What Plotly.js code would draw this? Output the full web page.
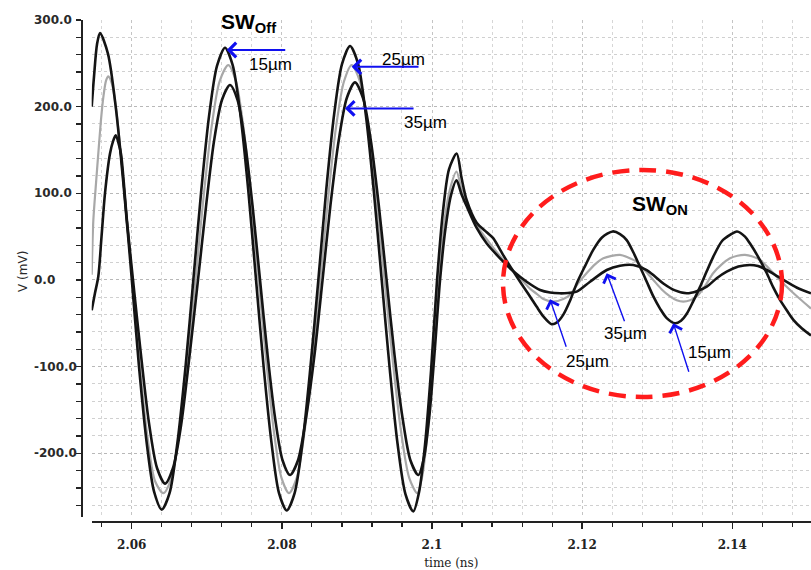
<!DOCTYPE html>
<html><head><meta charset="utf-8">
<script src="https://cdn.plot.ly/plotly-3.0.1.min.js"></script>
<style>html,body{margin:0;padding:0;background:#fff}#chart{width:811px;height:570px}</style>
</head><body><div id="chart"></div>
<script>
// time in ns, voltage in mV
const t15 = [2.05467,2.05498,2.05538,2.05578,2.05684,2.05791,2.05897,2.05997,2.06097,2.06204,2.06297,2.06400,2.06504,2.06610,2.06717,2.06821,2.06923,2.07030,2.07136,2.07243,2.07345,2.07449,2.07553,2.07656,2.07758,2.07862,2.07962,2.08065,2.08170,2.08275,2.08380,2.08486,2.08591,2.08696,2.08801,2.08908,2.09014,2.09118,2.09223,2.09330,2.09435,2.09541,2.09646,2.09751,2.09827,2.09907,2.09987,2.10067,2.10147,2.10227,2.10329,2.10393,2.10462,2.10595,2.10729,2.10817,2.10906,2.10995,2.11083,2.11195,2.11305,2.11395,2.11483,2.11594,2.11665,2.11749,2.11838,2.11927,2.12038,2.12149,2.12264,2.12407,2.12504,2.12593,2.12681,2.12771,2.12860,2.12948,2.13037,2.13126,2.13237,2.13317,2.13393,2.13477,2.13570,2.13659,2.13747,2.13863,2.13969,2.14063,2.14169,2.14236,2.14342,2.14458,2.14542,2.14635,2.14725,2.14813,2.14928,2.15048];
const v15 = [200,235,272,285,261,197,104,5,-100,-191,-244,-265,-246,-187,-100,0,100,189,247,268,248,190,103,0,-101,-188,-246,-266,-246,-188,-101,0,104,191,249,270,250,191,104,0,-101,-189,-247,-267,-245,-190,-105,0,80,128,146,118,92,66,55,48,35,22,10,-5,-19,-31,-42,-51,-49,-40,-24,-4,16,35,49,56,53,46,32,15,-2,-19,-33,-44,-50,-47,-39,-25,-8,10,27,45,52,56,50,42,27,8,-8,-23,-35,-46,-56,-64];

const t25 = [2.05467,2.05489,2.05525,2.05555,2.05591,2.05622,2.05658,2.05688,2.05738,2.05791,2.05897,2.06001,2.06104,2.06211,2.06310,2.06421,2.06530,2.06637,2.06743,2.06850,2.06956,2.07063,2.07170,2.07287,2.07389,2.07489,2.07589,2.07690,2.07792,2.07893,2.07994,2.08095,2.08199,2.08304,2.08408,2.08512,2.08617,2.08721,2.08827,2.08930,2.09040,2.09149,2.09258,2.09367,2.09477,2.09586,2.09695,2.09804,2.09873,2.09947,2.10013,2.10087,2.10160,2.10240,2.10326,2.10393,2.10462,2.10595,2.10773,2.10950,2.11083,2.11195,2.11305,2.11395,2.11483,2.11612,2.11749,2.11838,2.11945,2.12061,2.12171,2.12282,2.12504,2.12611,2.12727,2.12837,2.12948,2.13060,2.13170,2.13259,2.13347,2.13437,2.13526,2.13636,2.13747,2.13859,2.13969,2.14069,2.14169,2.14269,2.14369,2.14458,2.14546,2.14655,2.14769,2.14902,2.15048];
const v25 = [6,69,112,146,185,211,230,235,226,198,106,8,-95,-182,-232,-246,-228,-174,-93,0,95,176,229,248,229,176,95,0,-93,-174,-228,-246,-228,-174,-93,0,95,176,229,248,229,176,95,0,-93,-174,-228,-246,-225,-170,-95,0,65,105,125,105,88,63,42,23,10,0,-10,-16,-22,-25,-22,-17,-4,8,18,25,29,26,21,11,0,-11,-19,-23.5,-25,-23.5,-19,-7,8,18,25,28,29,27,23,16,8,-2,-11.5,-22,-33];

const t35 = [2.05467,2.05511,2.05555,2.05598,2.05644,2.05711,2.05751,2.05787,2.05824,2.05858,2.05937,2.06017,2.06124,2.06230,2.06337,2.06444,2.06550,2.06657,2.06763,2.06883,2.06990,2.07096,2.07203,2.07309,2.07409,2.07509,2.07609,2.07709,2.07809,2.07909,2.08009,2.08109,2.08215,2.08322,2.08435,2.08542,2.08648,2.08757,2.08865,2.08974,2.09081,2.09185,2.09290,2.09395,2.09501,2.09607,2.09712,2.09818,2.09893,2.09967,2.10033,2.10107,2.10180,2.10253,2.10326,2.10393,2.10462,2.10595,2.10729,2.10906,2.11083,2.11261,2.11439,2.11572,2.11705,2.11812,2.11927,2.12105,2.12327,2.12504,2.12681,2.12860,2.12970,2.13081,2.13237,2.13393,2.13526,2.13659,2.13792,2.13925,2.14080,2.14236,2.14342,2.14458,2.14569,2.14680,2.14862,2.15048];
const v35 = [-35,-15,4,50,100,146,160,167,158,145,68,0,-87,-165,-217,-235,-217,-168,-93,0,85,160,208,225,208,159,86,0,-86,-159,-208,-225,-208,-159,-86,0,87,161,210,228,210,161,87,0,-87,-159,-208,-225,-205,-155,-85,0,60,98,115,99,85,60,42,25,10,-2,-11.5,-14.5,-15.4,-15,-13.5,-2,11.5,16.5,17.3,11.5,4,-4,-12,-15.4,-13,-7.7,2,9.6,15.5,17.3,16,11.5,6,0,-9,-15.4];

const xTickVals = [2.06, 2.08, 2.1, 2.12, 2.14];
const xTickText = ['2.06', '2.08', '2.1', '2.12', '2.14'];
const yTickVals = [300, 200, 100, 0, -100, -200];
const yTickText = ['300.0', '200.0', '100.0', '0.0', '-100.0', '-200.0'];

const seriesNames = ['15µm', '25µm', '35µm'];

const traces = [
  {x: t25, y: v25, name: seriesNames[1], mode: 'lines', line: {color: '#a8a8a8', width: 2.2, shape: 'spline', smoothing: 0.8}},
  {x: t35, y: v35, name: seriesNames[2], mode: 'lines', line: {color: '#141414', width: 2.6, shape: 'spline', smoothing: 0.8}},
  {x: t15, y: v15, name: seriesNames[0], mode: 'lines', line: {color: '#141414', width: 2.6, shape: 'spline', smoothing: 0.8}}
];

const labFont = {family: 'Liberation Sans, Arial, sans-serif', size: 17, color: '#000'};
const annotations = [];
yTickVals.forEach((v, i) => annotations.push({
  xref: 'paper', yref: 'y', x: -0.069, y: v, xanchor: 'left', yanchor: 'middle',
  text: yTickText[i], showarrow: false,
  font: {family: 'DejaVu Sans', size: 12, color: '#2a2a2a', weight: 'bold'}
}));
annotations.push({xref: 'paper', yref: 'paper', x: -0.081, y: 0.5, textangle: -90,
  text: 'V (mV)', showarrow: false, xanchor: 'center', yanchor: 'middle',
  font: {family: 'DejaVu Sans', size: 12, color: '#2a2a2a'}});
// SW labels
annotations.push({xref: 'x', yref: 'y', x: 2.0716, y: 296, xanchor: 'left', yanchor: 'middle',
  text: '<b>SW<sub>Off</sub></b>', showarrow: false, font: {family: 'Liberation Sans, Arial', size: 21, color: '#000'}});
annotations.push({xref: 'x', yref: 'y', x: 2.1264, y: 87, xanchor: 'left', yanchor: 'middle',
  text: '<b>SW<sub>ON</sub></b>', showarrow: false, font: {family: 'Liberation Sans, Arial', size: 21, color: '#000'}});
// text labels
[[2.07842, 249, '15µm'], [2.09614, 255, '25µm'], [2.09907, 182, '35µm'],
 [2.12065, -93.5, '25µm'], [2.12571, -62, '35µm'], [2.13690, -84, '15µm']].forEach(a =>
  annotations.push({xref: 'x', yref: 'y', x: a[0], y: a[1], text: a[2], showarrow: false,
    xanchor: 'center', yanchor: 'middle', font: labFont}));
// arrows [headX, headY, tailX, tailY, width]
[[2.07265, 265.4, 2.08065, 265.4, 2], [2.08930, 246, 2.09840, 246, 2], [2.08841, 198, 2.09774, 198, 2],
 [2.11572, -22.3, 2.11794, -78.8, 1.4], [2.12327, 7.7, 2.12571, -49.3, 1.4], [2.13214, -50, 2.13427, -107.7, 1.4]].forEach(a =>
  annotations.push({xref: 'x', yref: 'y', axref: 'x', ayref: 'y', x: a[0], y: a[1], ax: a[2], ay: a[3],
    text: '', showarrow: true, arrowhead: 4, arrowsize: a[4] > 1.5 ? 1.4 : 1.8, arrowwidth: a[4], arrowcolor: '#1010f0', standoff: 0}));

const layout = {
  width: 811, height: 570, autosize: false,
  margin: {l: 82, r: 0, t: 20, b: 48, pad: 0},
  paper_bgcolor: '#fff', plot_bgcolor: '#fff', showlegend: false,
  font: {family: 'DejaVu Sans', size: 12, color: '#222'},
  xaxis: {
    domain: [0.0133, 1], range: [2.05467, 2.15048], anchor: 'free', position: 0,
    tickmode: 'array', tickvals: xTickVals, ticktext: xTickText,
    ticks: 'outside', ticklen: 6, tickwidth: 1.5, tickcolor: '#222', ticklabelstandoff: 6,
    showline: true, linecolor: '#222', linewidth: 2, zeroline: false,
    showgrid: true, gridcolor: '#c4c4c4', griddash: 'dot', gridwidth: 1,
    tickfont: {family: 'DejaVu Serif', size: 12, color: '#222', weight: 'bold'},
    minor: {tickmode: 'linear', tick0: 2.06, dtick: 0.004, ticks: 'outside', ticklen: 4, tickwidth: 1.2, tickcolor: '#222',
      showgrid: true, gridcolor: '#d6d6d6', griddash: 'dot', gridwidth: 1},
    title: {text: 'time (ns)', font: {family: 'DejaVu Serif', size: 12, color: '#222'}, standoff: 7}
  },
  yaxis: {
    domain: [0.01, 1], range: [-273.5, 300], anchor: 'free', position: 0,
    tickmode: 'array', tickvals: yTickVals, showticklabels: false,
    ticks: 'outside', ticklen: 5, tickwidth: 1.5, tickcolor: '#222',
    showline: true, linecolor: '#222', linewidth: 2, zeroline: false,
    showgrid: true, gridcolor: '#b8b8b8', griddash: 'dot', gridwidth: 1,
    minor: {tickmode: 'linear', tick0: 0, dtick: 20, ticks: 'outside', ticklen: 5, tickwidth: 1.2, tickcolor: '#222',
      showgrid: true, gridcolor: '#d0d0d0', griddash: 'dot', gridwidth: 1}
  },
  shapes: [{type: 'circle', xref: 'x', yref: 'y', x0: 2.10946, x1: 2.14662, y0: -135, y1: 127,
    line: {color: '#ff1c1c', width: 4.5, dash: '17px,10px'}}],
  annotations: annotations
};

Plotly.newPlot('chart', traces, layout, {staticPlot: true, displayModeBar: false});
</script>
</body></html>
